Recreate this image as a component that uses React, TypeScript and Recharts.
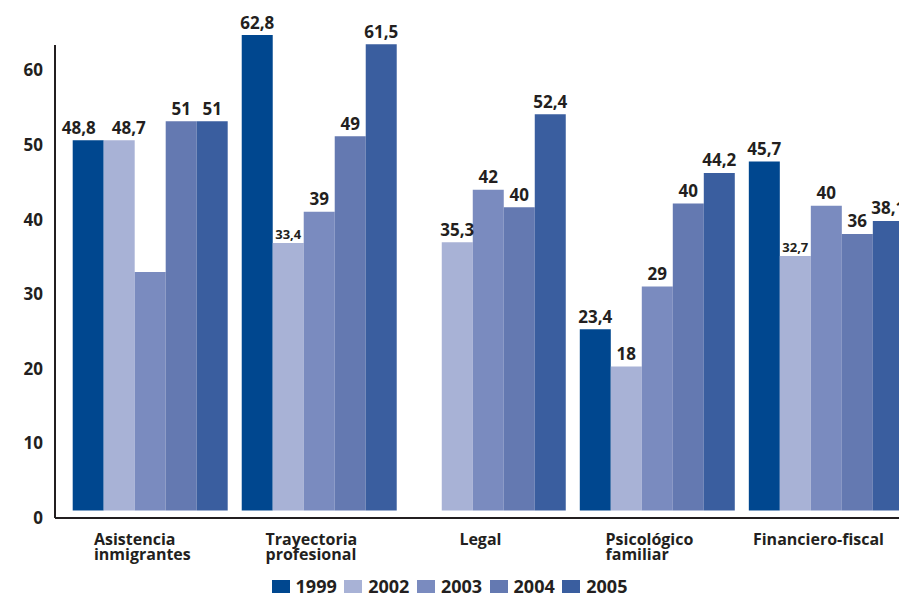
import { Bar, BarChart, LabelList, Legend, XAxis, YAxis } from "recharts"

const categories = [
  "Asistencia\ninmigrantes",
  "Trayectoria\nprofesional",
  "Legal",
  "Psicológico\nfamiliar",
  "Financiero-fiscal",
]
const years = ["1999", "2002", "2003", "2004", "2005"]

// bar heights as drawn
const values1999 = [48.6, 62.4, null, 23.8, 45.8]
const values2002 = [48.6, 35.1, 35.2, 18.9, 33.4]
const values2003 = [31.3, 39.2, 42.1, 29.4, 40.0]
const values2004 = [51.1, 49.1, 39.8, 40.3, 36.3]
const values2005 = [51.1, 61.2, 52.0, 44.3, 38.0]

// printed labels
const labels1999 = ["48,8", "62,8", "", "23,4", "45,7"]
const labels2002 = ["48,7", "33,4", "35,3", "18", "32,7"]
const labels2003 = ["", "39", "42", "29", "40"]
const labels2004 = ["51", "49", "40", "40", "36"]
const labels2005 = ["51", "61,5", "52,4", "44,2", "38,1"]
const smallLabels = ["33,4", "32,7"]

const yTicks = [0, 10, 20, 30, 40, 50, 60]

const colors = ["#00478f", "#a8b2d6", "#7a8bbf", "#6479b1", "#3a5e9f"]
const ink = "#231f20"
const font = '"Open Sans", sans-serif'

const seriesValues = [values1999, values2002, values2003, values2004, values2005]
const seriesLabels = [labels1999, labels2002, labels2003, labels2004, labels2005]

const data = categories.map((name, i) => {
  const row: Record<string, string | number | null> = { name }
  years.forEach((y, s) => {
    row["v" + y] = seriesValues[s][i]
    row["l" + y] = seriesLabels[s][i]
  })
  return row
})

let ctx: CanvasRenderingContext2D | null = null
function textWidth(s: string) {
  if (!ctx) ctx = document.createElement("canvas").getContext("2d")
  if (!ctx) return s.length * 9
  ctx.font = 'bold 16px "Open Sans"'
  return ctx.measureText(s).width
}

function CategoryTick(props: any) {
  const { x, y, payload } = props
  const lines = String(payload.value).split("\n")
  const w = Math.max(...lines.map(textWidth))
  const left = x - w / 2 - 8
  return (
    <text x={left} y={y} fontSize={16} fontWeight={700} fontFamily={font} fill={ink}>
      {lines.map((l, i) => (
        <tspan key={i} x={left} dy={i === 0 ? 19 : 15}>
          {l}
        </tspan>
      ))}
    </text>
  )
}

// two long labels on bars of equal height would collide: push them apart
function clashes(s: number, t: number, i: number) {
  if (t < 0 || t >= years.length) return false
  const a = seriesValues[s][i]
  const b = seriesValues[t][i]
  if (a == null || b == null) return false
  return Math.abs(a - b) < 1 && seriesLabels[s][i].length > 2 && seriesLabels[t][i].length > 2
}

function BarLabel(props: any) {
  const { x, y, width, value, index, series } = props
  if (!value) return null
  const small = smallLabels.includes(value)
  let shift = 0
  if (clashes(series, series + 1, index)) shift -= 9.5
  if (clashes(series, series - 1, index)) shift += 9.5
  return (
    <text
      x={x + width / 2 + shift}
      y={y - (small ? 4.5 : 6.5)}
      textAnchor="middle"
      fontSize={small ? 13 : 17}
      fontWeight={700}
      fontFamily={font}
      fill={ink}
    >
      {value}
    </text>
  )
}

function LegendContent() {
  return (
    <div
      style={{
        display: "flex",
        justifyContent: "center",
        height: 18,
        lineHeight: "18px",
        fontFamily: font,
        fontWeight: 700,
        fontSize: 18,
        color: ink,
      }}
    >
      {years.map((y, i) => (
        <div key={y} style={{ display: "flex", alignItems: "center", marginRight: i < 4 ? 7.5 : 0 }}>
          <span style={{ display: "inline-block", width: 18, height: 13, background: colors[i], marginRight: 6 }} />
          {y}
        </div>
      ))}
    </div>
  )
}

export default function App() {
  return (
    <div
      style={{
        position: "fixed",
        left: 0,
        top: 0,
        width: 899,
        height: 595,
        overflow: "hidden",
        background: "#fff",
      }}
    >
      <BarChart
        width={911}
        height={595}
        data={data}
        margin={{ top: 30, right: 0, bottom: 0, left: 0 }}
        barCategoryGap={6.85}
        barGap={0}
      >
        <XAxis
          dataKey="name"
          tickLine={false}
          axisLine={{ stroke: ink, strokeWidth: 2 }}
          tick={<CategoryTick />}
          interval={0}
          height={59}
          padding={{ left: 10.85, right: 0 }}
        />
        <YAxis
          yAxisId="ticks"
          orientation="left"
          width={55}
          type="number"
          domain={[0, 65.4]}
          allowDataOverflow
          ticks={yTicks}
          tickLine={false}
          tickMargin={6}
          axisLine={{ stroke: ink, strokeWidth: 2, strokeDasharray: "0 15 1000" }}
          tick={{ fontSize: 17, fontWeight: 700, fill: ink, fontFamily: font }}
        />
        {/* bars sit a little above the axis line and use their own scale */}
        <YAxis yAxisId="bars" orientation="right" hide domain={[-0.984, 63.06]} />
        <Legend
          verticalAlign="bottom"
          content={<LegendContent />}
          wrapperStyle={{ left: 0, width: 899 }}
        />
        {years.map((y, i) => (
          <Bar key={y} yAxisId="bars" dataKey={"v" + y} name={y} fill={colors[i]} isAnimationActive={false}>
            <LabelList dataKey={"l" + y} content={<BarLabel series={i} />} />
          </Bar>
        ))}
      </BarChart>
    </div>
  )
}
